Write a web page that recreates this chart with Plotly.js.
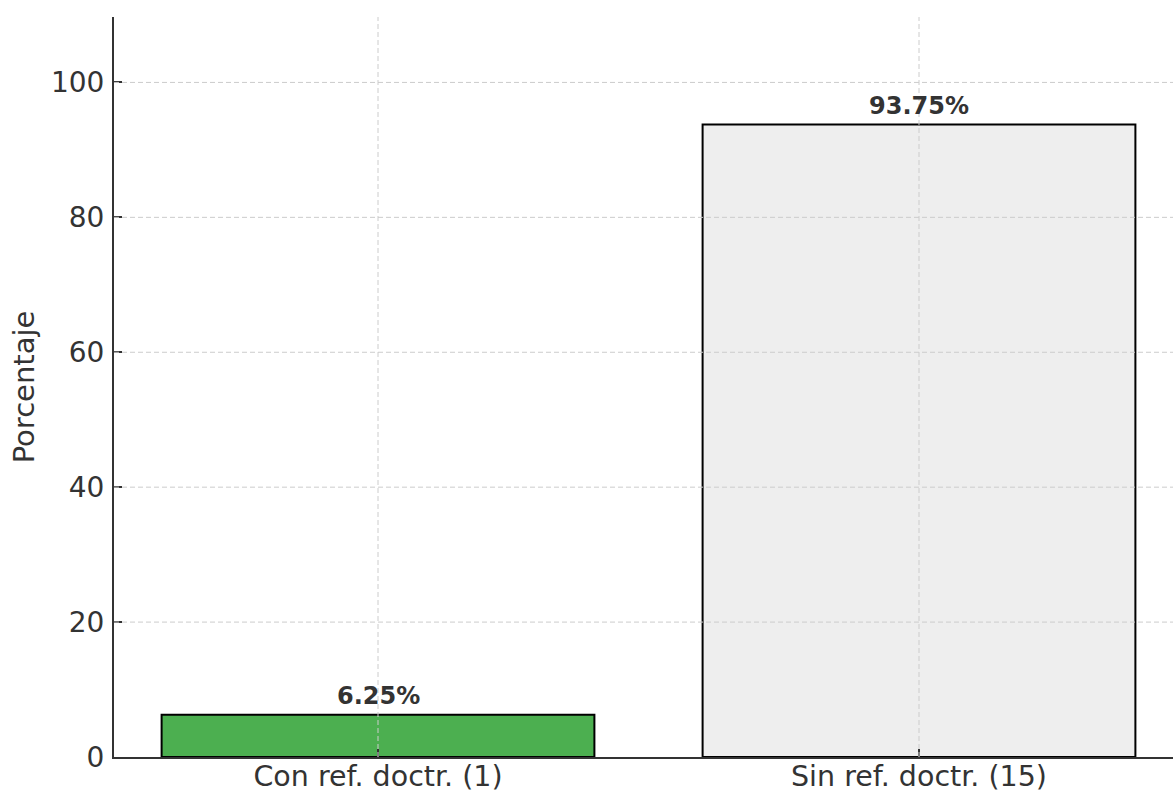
<!DOCTYPE html>
<html>
<head>
<meta charset="utf-8">
<script src="https://cdn.plot.ly/plotly-3.0.1.min.js"></script>
<style>html,body{margin:0;padding:0;background:#fff;}#chart{width:1173px;height:791px;}</style>
</head>
<body>
<div id="chart"></div>
<script>
const categories = ["Con ref. doctr. (1)", "Sin ref. doctr. (15)"];
const percentages = [6.25, 93.75];
const barColors = ["#4caf50", "#eeeeee"];
const yTicks = [0, 20, 40, 60, 80, 100];
const labelTexts = percentages.map(v => v.toFixed(2) + "%");

const font = "DejaVu Sans, sans-serif";
const textColor = "#333333";

const trace = {
  type: "bar",
  x: [0, 1],
  y: percentages,
  width: 0.8,
  marker: {color: barColors, line: {color: "#000000", width: 2}},
  hoverinfo: "skip"
};

const shapes = [];
yTicks.filter(v => v > 0).forEach(v => shapes.push({
  type: "line", xref: "paper", yref: "y", x0: 0, x1: 1, y0: v, y1: v,
  line: {color: "#cccccc", width: 1, dash: "5px,3px"}, layer: "above"
}));
categories.forEach((c, i) => shapes.push({
  type: "line", xref: "x", yref: "paper", x0: i, x1: i, y0: 0, y1: 1,
  line: {color: "#cccccc", width: 1, dash: "5px,3px"}, layer: "above"
}));

const annotations = percentages.map((v, i) => ({
  x: i, y: v, xref: "x", yref: "y", text: "<b>" + labelTexts[i] + "</b>",
  showarrow: false, yanchor: "bottom", yshift: 3,
  font: {family: font, size: 24, color: textColor}
}));

const layout = {
  width: 1173, height: 791,
  margin: {l: 114, r: 0, t: 17, b: 34, pad: 0},
  paper_bgcolor: "#ffffff", plot_bgcolor: "#ffffff",
  showlegend: false,
  font: {family: font, color: textColor},
  xaxis: {
    range: [-0.488, 1.4695],
    tickmode: "array", tickvals: [0, 1], ticktext: categories,
    showgrid: false, zeroline: false,
    showline: true, linecolor: "#333333", linewidth: 2,
    ticks: "inside", ticklen: 8, tickwidth: 2, tickcolor: "#333333",
    tickfont: {family: font, size: 28.5, color: textColor},
    ticklabelstandoff: -7,
    layer: "above traces"
  },
  yaxis: {
    range: [0, 109.7],
    tickmode: "array", tickvals: yTicks, ticktext: yTicks.map(String),
    showgrid: false, zeroline: false,
    showline: true, linecolor: "#333333", linewidth: 2,
    ticks: "inside", ticklen: 8, tickwidth: 2, tickcolor: "#333333",
    tickfont: {family: font, size: 28, color: textColor},
    ticklabelstandoff: 2,
    title: {text: "Porcentaje", font: {family: font, size: 29, color: textColor}, standoff: 8},
    layer: "above traces"
  },
  shapes: shapes,
  annotations: annotations
};

Plotly.newPlot("chart", [trace], layout, {displayModeBar: false, staticPlot: true});
</script>
</body>
</html>
